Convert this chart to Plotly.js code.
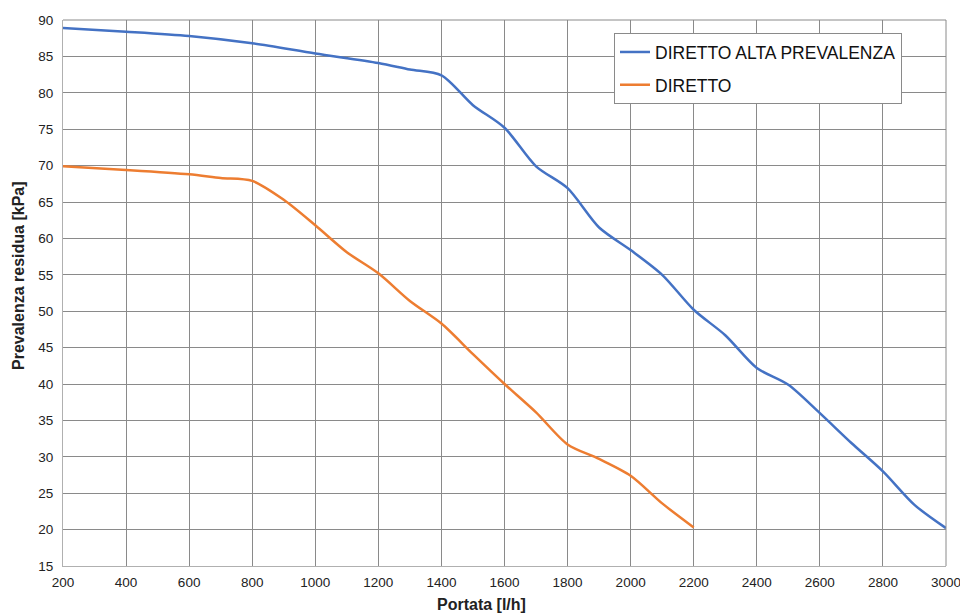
<!DOCTYPE html>
<html>
<head>
<meta charset="utf-8">
<script src="https://cdn.plot.ly/plotly-3.0.1.min.js"></script>
<style>body{margin:0;background:#fff}#chart{width:960px;height:615px}</style>
</head>
<body>
<div id="chart"></div>
<script>
const portataAlta = [200, 400, 600, 800, 1000, 1200, 1300, 1400, 1500, 1600, 1700, 1800, 1900, 2000, 2100, 2200, 2300, 2400, 2500, 2600, 2700, 2800, 2900, 3000];
const prevalenzaAlta = [88.9, 88.4, 87.8, 86.8, 85.4, 84.1, 83.2, 82.4, 78.3, 75.2, 69.9, 66.9, 61.5, 58.4, 55.0, 50.2, 46.7, 42.2, 39.9, 36.0, 31.9, 28.0, 23.4, 20.2];
const portataDiretto = [200, 400, 600, 700, 800, 900, 1000, 1100, 1200, 1300, 1400, 1500, 1600, 1700, 1800, 1900, 2000, 2100, 2200];
const prevalenzaDiretto = [69.9, 69.4, 68.8, 68.3, 67.9, 65.3, 61.8, 58.1, 55.2, 51.4, 48.3, 44.1, 40.0, 36.1, 31.7, 29.7, 27.4, 23.6, 20.3];
const seriesNames = ["DIRETTO ALTA PREVALENZA", "DIRETTO"];
const xTicks = [200, 400, 600, 800, 1000, 1200, 1400, 1600, 1800, 2000, 2200, 2400, 2600, 2800, 3000];
const xTitle = "Portata [l/h]";
const yTitle = "Prevalenza residua [kPa]";

const traces = [
  {x: portataAlta, y: prevalenzaAlta, name: seriesNames[0], mode: 'lines', legendgroup: 'a',
   line: {color: '#4472C4', width: 2.5, shape: 'spline', smoothing: 0.8}},
  {x: portataDiretto, y: prevalenzaDiretto, name: seriesNames[1], mode: 'lines', legendgroup: 'b',
   line: {color: '#ED7D31', width: 2.5, shape: 'spline', smoothing: 0.8}}
];

const layout = {
  width: 960, height: 615,
  margin: {l: 63, r: 14, t: 20, b: 49},
  paper_bgcolor: '#ffffff', plot_bgcolor: '#ffffff',
  font: {family: 'Liberation Sans, Arial, sans-serif', color: '#222', size: 13},
  xaxis: {
    range: [200, 3000], tickvals: xTicks, ticktext: xTicks.map(String),
    showgrid: true, gridcolor: '#8a8a8a', gridwidth: 1,
    showline: true, linecolor: '#b0b0b0', linewidth: 1,
    zeroline: false, ticks: 'outside', ticklen: 4, tickcolor: 'rgba(0,0,0,0)',
    ticklabeloverflow: 'allow',
    tickfont: {size: 13.5, color: '#222'}
  },
  yaxis: {
    range: [15, 90], dtick: 5, tick0: 15,
    showgrid: true, gridcolor: '#8a8a8a', gridwidth: 1,
    showline: true, linecolor: '#b0b0b0', linewidth: 1,
    zeroline: false, ticks: 'outside', ticklen: 6, tickcolor: 'rgba(0,0,0,0)',
    tickfont: {size: 13.5, color: '#222'}
  },
  annotations: [
    {text: xTitle, xref: 'paper', yref: 'paper', x: (481 - 63) / 883, y: -(604 - 566) / 546,
     xanchor: 'center', yanchor: 'middle', showarrow: false,
     font: {size: 16, color: '#222', weight: 'bold'}},
    {text: yTitle, xref: 'paper', yref: 'paper', x: -(63 - 18) / 883, y: (566 - 276) / 546,
     xanchor: 'center', yanchor: 'middle', showarrow: false, textangle: -90,
     font: {size: 16, color: '#222', weight: 'bold'}}
  ],
  shapes: [
    {type: 'line', xref: 'paper', yref: 'paper', x0: 1, x1: 1, y0: 0, y1: 1, line: {color: '#8a8a8a', width: 1}},
    {type: 'line', xref: 'paper', yref: 'paper', x0: 0, x1: 1, y0: 1, y1: 1, line: {color: '#8a8a8a', width: 1}}
  ],
  legend: {
    x: 0.624, y: 0.976, xanchor: 'left', yanchor: 'top',
    bgcolor: '#ffffff', bordercolor: '#8a8a8a', borderwidth: 1,
    font: {family: 'Liberation Sans, Arial, sans-serif', size: 17.5, color: '#111'},
    itemwidth: 30, tracegroupgap: 7
  },
  showlegend: true
};

Plotly.newPlot('chart', traces, layout, {displayModeBar: false, staticPlot: true});
</script>
</body>
</html>
